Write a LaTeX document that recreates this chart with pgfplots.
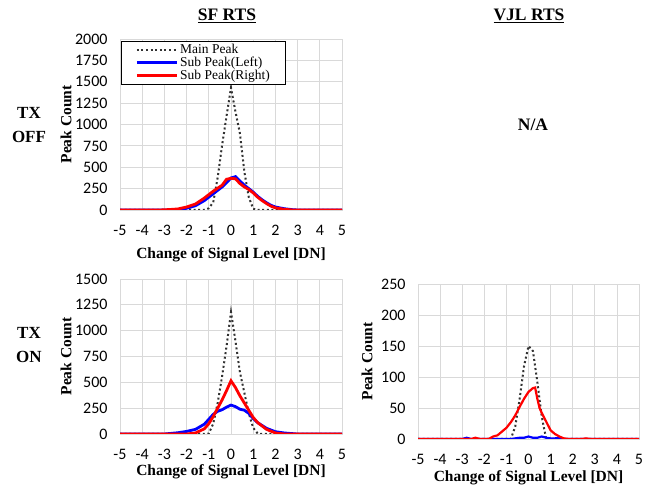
\documentclass[border=0pt]{standalone}
\usepackage{fontspec}
\setmainfont{Liberation Serif}
\newfontfamily\tickfont{Carlito}
\usepackage{pgfplots}
\pgfplotsset{compat=1.18}
\definecolor{gridgray}{RGB}{217,217,217}
\definecolor{mainpk}{RGB}{50,50,50}
\pgfplotsset{
  rtsaxis/.style={
    scale only axis, xmin=-5, xmax=5, xtick={-5,...,5}, ymin=0,
    grid=major, major grid style={gridgray, line width=0.8pt},
    axis line style={gridgray, line width=0.8pt},
    tick style={draw=none},
    /pgf/number format/assume math mode=true,
    /pgf/number format/1000 sep={},
    scaled y ticks=false,
    ticklabel style={font=\tickfont\fontsize{16}{16}\selectfont},
    xticklabel style={anchor=center, yshift=-20pt},
    yticklabel style={anchor=east, xshift=-9pt},
    xlabel={Change of Signal Level [DN]},
    ylabel={Peak Count},
    label style={font=\bfseries\fontsize{15.5}{15.5}\selectfont},
    x label style={at={(axis description cs:0.5,0)}, anchor=center},
    y label style={at={(axis description cs:0,0.5)}, anchor=center},
    clip=true,
  },
  mainpeak/.style={mainpk, line width=2pt, dash pattern=on 2pt off 2.6pt},
  subleft/.style={blue, line width=2.8pt},
  subright/.style={red, line width=2.8pt},
}
\begin{document}
\begin{tikzpicture}
\path[use as bounding box] (0,0) rectangle (655pt,489pt);
% Titles and row labels
\node[font=\bfseries\fontsize{17.5}{17.5}\selectfont] at (227pt,473pt) {\underline{SF RTS}};
\node[font=\bfseries\fontsize{17.5}{17.5}\selectfont] at (529pt,473pt) {\underline{VJL RTS}};
\node[font=\bfseries\fontsize{17}{24}\selectfont, align=center] at (29pt,364pt) {TX\\OFF};
\node[font=\bfseries\fontsize{17}{24}\selectfont, align=center] at (29pt,144pt) {TX\\ON};
\node[font=\bfseries\fontsize{17.5}{17.5}\selectfont] at (533pt,364pt) {N/A};

% SF RTS, TX OFF
\begin{axis}[rtsaxis, at={(120pt,279pt)}, anchor=south west, width=222pt, height=171pt,
  ymax=2000, ytick={0,250,...,2000},
  x label style={yshift=-45pt},
  y label style={yshift=54pt},
  legend style={at={(axis description cs:0,1)}, anchor=north west, xshift=1pt, yshift=-2pt,
    draw=black, line width=0.8pt, fill=white, inner xsep=14pt, inner ysep=1pt,
    row sep=-2pt, font=\fontsize{13.5}{13.5}\selectfont, legend cell align=left},
  legend image code/.code={\draw[#1] (0pt,0pt) -- (40pt,0pt);},
]
\addplot[mainpeak] coordinates {(-5,0) (-1.4,0) (-1.2,2) (-1.0,20) (-0.8,90) (-0.6,380) (-0.4,760) (-0.2,1100) (0,1430) (0.2,1150) (0.4,900) (0.6,450) (0.8,150) (1.0,15) (1.2,0) (5,0)};
\addlegendentry{Main Peak}
\addplot[subleft] coordinates {(-5,0) (-2.8,0) (-2.4,5) (-2.0,20) (-1.6,50) (-1.2,110) (-0.8,190) (-0.4,270) (-0.2,320) (0,375) (0.2,390) (0.4,340) (0.6,290) (0.8,250) (1.0,210) (1.2,160) (1.4,120) (1.6,85) (1.8,55) (2.0,35) (2.4,15) (2.8,3) (3.0,0) (5,0)};
\addlegendentry{Sub Peak(Left)}
\addplot[subright] coordinates {(-5,0) (-3.2,0) (-2.8,5) (-2.4,12) (-2.0,35) (-1.6,70) (-1.2,140) (-0.8,220) (-0.4,290) (-0.2,360) (0,370) (0.2,365) (0.4,310) (0.6,270) (0.8,240) (1.0,200) (1.2,150) (1.4,110) (1.6,75) (1.8,45) (2.0,25) (2.4,8) (2.8,0) (5,0)};
\addlegendentry{Sub Peak(Right)}
\end{axis}

% SF RTS, TX ON
\begin{axis}[rtsaxis, at={(120pt,55pt)}, anchor=south west, width=222pt, height=155pt,
  ymax=1500, ytick={0,250,...,1500},
  x label style={yshift=-38pt},
  y label style={yshift=54pt},
]
\addplot[mainpeak] coordinates {(-5,0) (-1.2,0) (-1.0,5) (-0.8,100) (-0.6,300) (-0.4,560) (-0.2,850) (0,1180) (0.2,900) (0.4,600) (0.6,400) (0.8,200) (1.0,60) (1.2,5) (1.4,0) (5,0)};
\addplot[subleft] coordinates {(-5,0) (-3,0) (-2.8,4) (-2.4,12) (-2.0,25) (-1.6,45) (-1.2,95) (-0.8,190) (-0.6,220) (-0.4,235) (-0.2,260) (0,280) (0.2,265) (0.4,240) (0.6,230) (0.8,200) (1.0,150) (1.2,110) (1.6,55) (2.0,22) (2.4,10) (2.8,3) (3.0,0) (5,0)};
\addplot[subright] coordinates {(-5,0) (-2,0) (-1.6,10) (-1.2,50) (-1.0,100) (-0.8,170) (-0.6,250) (-0.4,330) (-0.2,420) (0,515) (0.2,450) (0.4,370) (0.6,300) (0.8,230) (1.0,160) (1.2,110) (1.6,45) (2.0,10) (2.4,0) (5,0)};
\end{axis}

% VJL RTS, TX ON
\begin{axis}[rtsaxis, at={(418pt,50pt)}, anchor=south west, width=221pt, height=155pt,
  ymax=250, ytick={0,50,...,250},
  x label style={yshift=-39pt},
  y label style={yshift=51pt},
]
\addplot[mainpeak] coordinates {(-5,0) (-0.8,0) (-0.6,20) (-0.4,65) (-0.2,118) (0,150) (0.2,142) (0.4,92) (0.6,36) (0.8,0) (5,0)};
\addplot[subleft, line width=2.2pt] coordinates {(-5,0) (-3.0,0) (-2.8,2) (-2.6,0) (-0.8,0) (-0.6,1) (-0.4,2) (-0.2,2) (0,4) (0.2,2) (0.4,2) (0.6,4) (0.8,2) (1.0,1) (1.2,1) (1.4,2) (1.6,0) (5,0)};
\addplot[subright, line width=2.2pt] coordinates {(-5,0) (-2.6,0) (-2.4,2) (-2.2,0) (-1.8,0) (-1.6,4) (-1.4,6) (-1.2,12) (-1.0,18) (-0.8,27) (-0.6,38) (-0.4,52) (-0.2,65) (0,76) (0.2,82) (0.3,83) (0.4,65) (0.5,50) (0.6,42) (0.8,28) (1.0,14) (1.2,8) (1.4,4) (1.6,1) (1.8,0) (2.4,0) (2.6,1) (2.8,0) (5,0)};
\end{axis}
\end{tikzpicture}
\end{document}
